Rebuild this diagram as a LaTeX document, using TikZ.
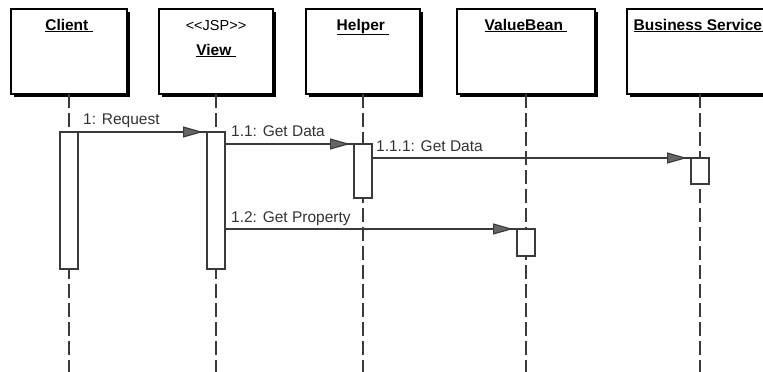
\documentclass[tikz,border=0pt]{standalone}
\usepackage{fontspec}
\setmainfont{Liberation Sans}
\usetikzlibrary{arrows.meta,shadows,calc}
\definecolor{linegray}{HTML}{3A3A3A}
\definecolor{tipgray}{HTML}{666666}
\begin{document}
\begin{tikzpicture}[x=1pt,y=-1pt,
  objbox/.style={draw=black,line width=1.4pt,fill=white,minimum height=85pt,inner sep=0pt,outer sep=0pt,
    drop shadow={shadow xshift=3pt,shadow yshift=-3pt,fill=black,opacity=1}},
  objname/.style={anchor=base,font=\fontsize{15.5}{17}\selectfont\bfseries,inner sep=0pt},
  stereo/.style={anchor=base,font=\fontsize{14.5}{16}\selectfont,inner sep=0pt},
  lifeline/.style={draw=linegray,line width=1.3pt,dash pattern=on 14pt off 5pt},
  activation/.style={draw=linegray,line width=1.3pt,fill=white,minimum width=18pt,inner sep=0pt,outer sep=0pt},
  msg/.style={draw=linegray,line width=1.1pt,
    -{Triangle[length=20pt,width=11pt,fill=tipgray,sep=0pt]Rectangle[length=4pt,width=2.5pt,fill=linegray,sep=0pt]}},
  msglabel/.style={anchor=base west,font=\fontsize{15.5}{17}\selectfont,text=black!80,inner sep=0pt},
]
\useasboundingbox (0,0) rectangle (763,372);
\coordinate (bottom) at (0,372);

% object boxes
\node[objbox,minimum width=116pt,anchor=north] (client) at (69,9) {};
\node[objbox,minimum width=114pt,anchor=north] (view) at (216,9) {};
\node[objbox,minimum width=114pt,anchor=north] (helper) at (363,9) {};
\node[objbox,minimum width=138pt,anchor=north] (bean) at (526,9) {};
\node[objbox,minimum width=146pt,anchor=north] (biz) at (700,9) {};

% names
\node[objname] (clientT) at ([yshift=-21pt]client.north) {\underline{Client\ }};
\node[stereo] (viewS) at ([yshift=-21pt]view.north) {<\kern0pt<JSP>\kern0pt>};
\node[objname] (viewT) at ([yshift=-46pt]view.north) {\underline{View\ }};
\node[objname] (helperT) at ([yshift=-21pt]helper.north) {\underline{Helper\ }};
\node[objname] (beanT) at ([yshift=-21pt]bean.north) {\underline{ValueBean\ }};
\node[objname] (bizT) at ([yshift=-21pt]biz.north) {\underline{Business Service\ }};

% lifelines
\draw[lifeline] (client.south) -- (client.south |- bottom);
\draw[lifeline] (view.south) -- (view.south |- bottom);
\draw[lifeline] (helper.south) -- (helper.south |- bottom);
\draw[lifeline] (bean.south) -- (bean.south |- bottom);
\draw[lifeline] (biz.south) -- (biz.south |- bottom);

% activations
\node[activation,minimum height=137pt,anchor=north] (clientAct) at (69,132) {};
\node[activation,minimum height=137pt,anchor=north] (viewAct) at (216,132) {};
\node[activation,minimum height=54pt,anchor=north] (helperAct) at (363,144) {};
\node[activation,minimum height=26pt,anchor=north] (bizAct) at (700,158) {};
\node[activation,minimum height=27pt,anchor=north] (beanAct) at (526,229) {};

% messages
\draw[msg] (clientAct.north east) -- (viewAct.north west);
\draw[msg] (viewAct.east |- helperAct.north) -- (helperAct.north west);
\draw[msg] (helperAct.east |- bizAct.north) -- (bizAct.north west);
\draw[msg] (viewAct.east |- beanAct.north) -- (beanAct.north west);

% message labels
\node[msglabel] (m1) at ($(clientAct.north east)+(5,-8)$) {1: Request};
\node[msglabel] (m11) at ($(viewAct.east |- helperAct.north)+(6,-8)$) {1.1: Get Data};
\node[msglabel] (m111) at ($(helperAct.east |- bizAct.north)+(4,-7)$) {1.1.1: Get Data};
\node[msglabel] (m12) at ($(viewAct.east |- beanAct.north)+(6,-7)$) {1.2: Get Property};
\end{tikzpicture}
\end{document}
